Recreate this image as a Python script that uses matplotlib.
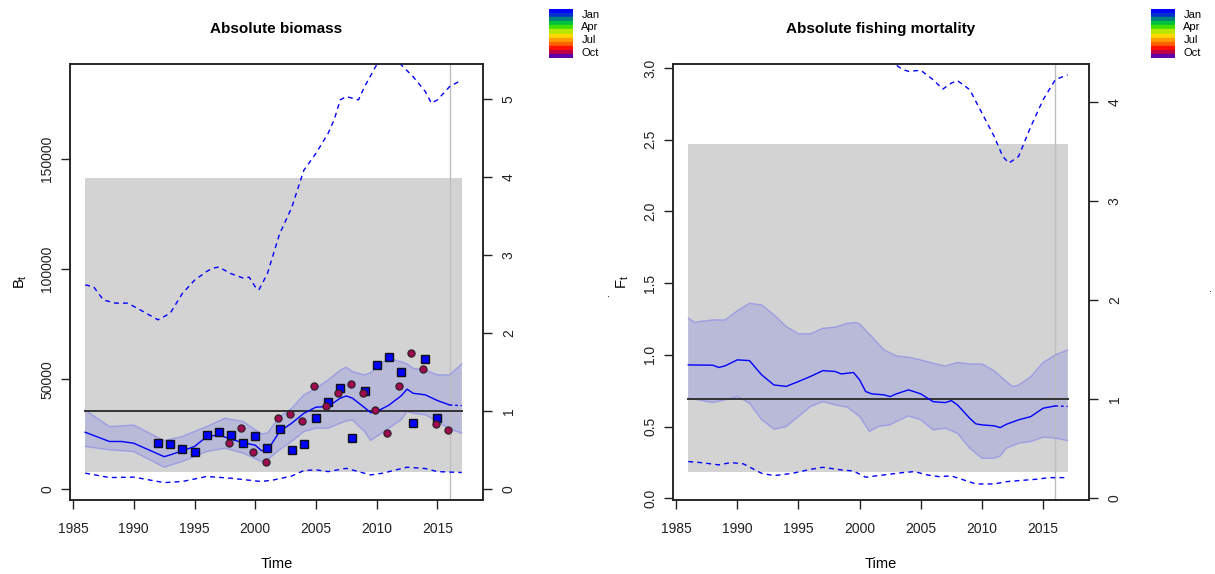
import numpy as np
import matplotlib
matplotlib.use("Agg")
import matplotlib.pyplot as plt

plt.rcParams['font.family'] = ['Liberation Sans', 'DejaVu Sans']
plt.rcParams['mathtext.fontset'] = 'custom'
plt.rcParams['mathtext.rm'] = 'Liberation Sans'

# ---------------- Data: biomass panel ----------------
B_years = [1986, 1988, 1989, 1990, 1992.5, 1993, 1995, 1996, 1997, 1998, 1999, 2000, 2000.5, 2001,
           2002, 2003, 2004, 2005, 2006, 2007, 2007.5, 2008, 2009, 2009.5, 2010, 2011, 2012, 2012.5,
           2013, 2014, 2015, 2016]
B_est = [25.9, 21.7, 21.7, 20.9, 14.8, 15.6, 19.4, 23.9, 24.7, 22.7, 21.2, 20.0, 17.6, 17.6,
         26.2, 30.0, 34.5, 37.3, 37.6, 41.4, 42.4, 41.4, 37.1, 34.8, 35.3, 38.2, 42.4, 45.5,
         43.6, 42.9, 40.3, 38.3]
B_fc_years = [2016, 2017]
B_fc = [38.3, 38.0]

B_ci_years = [1986, 1988, 1990, 1992.5, 1994, 1996, 1997.5, 1999, 2000.5, 2001, 2002, 2003, 2004,
              2005, 2006, 2007, 2007.5, 2008, 2009, 2009.5, 2010, 2011, 2012, 2012.5, 2013, 2014,
              2015, 2016, 2017]
B_upper = [36.0, 28.5, 29.2, 22.1, 24.0, 28.5, 32.3, 30.8, 25.2, 25.5, 33.0, 36.8, 42.9,
           45.9, 49.7, 54.2, 55.5, 53.5, 52.0, 53.0, 56.0, 59.5, 58.0, 57.0, 55.0, 54.2,
           52.0, 52.0, 57.0]
B_lower = [19.4, 17.9, 17.1, 10.0, 12.6, 17.1, 18.6, 16.4, 12.6, 13.3, 17.9, 21.7, 26.2,
           27.7, 27.7, 30.0, 31.0, 31.5, 26.2, 22.1, 24.0, 27.7, 31.5, 35.3, 34.5, 33.8,
           30.8, 27.3, 25.5]

B_lo_years = [1986, 1988, 1990, 1992.5, 1994, 1996, 1998, 2000.5, 2001.5, 2003, 2004, 2005, 2006,
              2007.5, 2009.5, 2010.5, 2012.5, 2014, 2015, 2017]
B_lo_dash = [7.3, 5.3, 5.5, 3.0, 3.5, 5.8, 5.0, 3.5, 4.2, 6.0, 8.5, 8.8, 8.0,
             9.5, 6.5, 7.3, 10.0, 9.4, 8.0, 7.6]
B_hi_years = [1986, 1986.7, 1987.5, 1988.5, 1989.5, 1990.5, 1992, 1993, 1994, 1995, 1996, 1996.5,
              1997, 1998, 1999, 1999.5, 2000, 2000.3, 2001, 2002, 2003, 2004, 2005, 2006, 2006.5,
              2007, 2007.5, 2008.5, 2009, 2010, 2011, 2012, 2013, 2014, 2014.5, 2015, 2016, 2017]
B_hi_dash = [92.9, 92.0, 86.0, 84.6, 84.6, 81.6, 77.0, 80.0, 89.0, 95.0, 99.0, 100.5,
             101.0, 98.0, 96.0, 96.4, 92.0, 90.6, 98.0, 116.0, 128.0, 145.0, 152.7, 161.8, 168.0,
             177.0, 178.5, 177.0, 183.0, 193.0, 198.0, 193.0, 187.5, 180.8, 175.5, 177.0, 183.0, 186.0]

obs_sq_years = [1992, 1993, 1994, 1995, 1996, 1997, 1998, 1999, 2000, 2001, 2002, 2003, 2004,
                2005, 2006, 2007, 2008, 2009, 2010, 2011, 2012, 2013, 2014, 2015]
obs_sq = [21.2, 20.6, 18.2, 17.0, 24.7, 26.2, 24.7, 21.2, 24.4, 18.6, 27.4, 17.9, 20.6,
          32.3, 39.5, 45.8, 23.5, 44.7, 56.5, 60.0, 53.2, 30.3, 59.4, 32.6]
obs_ci_years = [1997.85, 1998.85, 1999.85, 2000.85, 2001.85, 2002.85, 2003.85, 2004.85, 2005.85,
                2006.85, 2007.85, 2008.85, 2009.85, 2010.85, 2011.85, 2012.85, 2013.85, 2014.85, 2015.85]
obs_ci = [20.9, 27.7, 16.8, 12.3, 32.4, 34.1, 31.2, 47.1, 37.9, 43.6, 47.7, 43.6, 36.0,
          25.5, 47.1, 62.1, 54.5, 29.5, 26.7]

B_msy = 35.5          # thousands
B_box = (1986, 2017, 8.0, 141.4)

# ---------------- Data: fishing mortality panel ----------------
F_years = [1986, 1988, 1988.5, 1989, 1990, 1991, 1992, 1993, 1994, 1995, 1996, 1997, 1998, 1998.5,
           1999.5, 2000, 2000.5, 2001, 2002, 2002.5, 2003, 2004, 2005, 2006, 2007, 2007.5, 2008,
           2009, 2009.5, 2010, 2011, 2011.5, 2012, 2013, 2014, 2015, 2016]
F_est = [0.93, 0.928, 0.912, 0.923, 0.965, 0.96, 0.86, 0.79, 0.78, 0.814, 0.85, 0.89, 0.884, 0.867,
         0.877, 0.826, 0.744, 0.728, 0.721, 0.709, 0.728, 0.756, 0.728, 0.674, 0.667, 0.681, 0.651,
         0.558, 0.519, 0.512, 0.505, 0.493, 0.516, 0.547, 0.57, 0.628, 0.644]
F_fc_years = [2016, 2017]
F_fc = [0.644, 0.64]

F_up_years = [1986, 1986.5, 1988, 1989, 1990, 1991, 1992, 1993, 1994, 1995, 1996, 1997, 1998, 1999,
              1999.7, 2000, 2001, 2002, 2003, 2004, 2005, 2006, 2007, 2008, 2009, 2010, 2011, 2012,
              2012.5, 2013, 2014, 2015, 2016, 2017]
F_upper = [1.256, 1.228, 1.244, 1.244, 1.307, 1.36, 1.349, 1.279, 1.198, 1.147, 1.147, 1.186,
           1.193, 1.221, 1.226, 1.216, 1.128, 1.035, 0.993, 0.984, 0.965, 0.942, 0.923, 0.947,
           0.937, 0.937, 0.89, 0.814, 0.779, 0.79, 0.849, 0.947, 1.0, 1.035]
F_lo_years = [1986, 1988, 1989, 1990, 1991, 1992, 1993, 1994, 1995, 1996, 1997, 1998, 1999, 2000,
              2000.8, 2001.5, 2002.5, 2003, 2004, 2005, 2006, 2007, 2008, 2009, 2010, 2011, 2011.5,
              2012, 2013, 2014, 2015, 2016, 2017]
F_lower = [0.698, 0.667, 0.686, 0.709, 0.663, 0.547, 0.481, 0.5, 0.57, 0.64, 0.674, 0.651, 0.635,
           0.57, 0.465, 0.5, 0.512, 0.535, 0.574, 0.547, 0.477, 0.488, 0.453, 0.349, 0.279, 0.279,
           0.295, 0.349, 0.384, 0.395, 0.426, 0.419, 0.402]

F_lod_years = [1986, 1987, 1988.5, 1989.5, 1990.5, 1992, 1993, 1994.5, 1996, 1997, 1998.5, 1999.5,
               2000.5, 2002, 2003.5, 2004.5, 2005.5, 2006.5, 2007.5, 2008.5, 2009.5, 2011, 2012,
               2013, 2014.5, 2015.5, 2017]
F_lo_dash = [0.256, 0.249, 0.233, 0.249, 0.24, 0.174, 0.158, 0.174, 0.202, 0.216, 0.198, 0.19,
             0.147, 0.163, 0.179, 0.186, 0.163, 0.151, 0.156, 0.128, 0.1, 0.1, 0.116, 0.123,
             0.133, 0.144, 0.144]
F_hid_years = [1986, 1990, 1995, 2000, 2002, 2003, 2003.5, 2004, 2005, 2006, 2006.8, 2007.5, 2008,
               2009, 2010, 2011, 2011.7, 2012.2, 2013, 2014, 2015, 2016, 2017]
F_hi_dash = [3.6, 3.7, 3.5, 3.4, 3.15, 3.02, 2.99, 2.977, 2.984, 2.919, 2.853, 2.895, 2.912,
             2.849, 2.686, 2.523, 2.384, 2.337, 2.384, 2.593, 2.779, 2.919, 2.953]

F_msy = 0.69
F_box = (1986, 2017, 0.181, 2.467)
last_obs_year = 2016

months = ['Jan', 'Feb', 'Mar', 'Apr', 'May', 'Jun', 'Jul', 'Aug', 'Sep', 'Oct', 'Nov', 'Dec']
month_colors = ['#0000FF', '#0030D0', '#00807A', '#00C040', '#40E000', '#B8E800',
                '#FFD800', '#FFA000', '#FF6000', '#FF1000', '#C0003C', '#6000A8']
legend_months = ['Jan', 'Apr', 'Jul', 'Oct']

# ---------------- Figure ----------------
W, H = 1215, 574
fig = plt.figure(figsize=(W / 100, H / 100), dpi=100)


def fax(x0, y0, x1, y1):
    return [x0 / W, 1 - y1 / H, (x1 - x0) / W, (y1 - y0) / H]


BAND_FILL = (0, 0, 1, 0.12)
BAND_EDGE = (0.3, 0.3, 1, 0.32)
TICKFS = 10


def style_axis(ax):
    for s in ax.spines.values():
        s.set_linewidth(1.1)
        s.set_color('#222222')
    ax.tick_params(axis='both', length=6.5, width=1.0, labelsize=TICKFS, colors='#222222')
    ax.tick_params(axis='x', pad=9)
    ax.tick_params(axis='y', pad=5)


def rot_ylabels(ax):
    for lab in ax.get_yticklabels():
        lab.set_rotation(90)
        lab.set_va('center')


def panel(rect, box, x_est, y_est, x_fc, y_fc, xu, yu, xl, yl, xld, yld, xhd, yhd, ref,
          ylim, yticks, yticklabels, rticks, title, ylabel, obs=None):
    ax = fig.add_axes(rect)
    style_axis(ax)
    x0, x1, y0, y1 = box
    ax.fill([x0, x1, x1, x0], [y0, y0, y1, y1], color='#D3D3D3', lw=0, zorder=1)
    poly_x = np.concatenate([xu, xl[::-1]])
    poly_y = np.concatenate([yu, yl[::-1]])
    ax.fill(poly_x, poly_y, color=BAND_FILL, lw=0, zorder=2)
    ax.plot(xu, yu, color=BAND_EDGE, lw=1.0, zorder=3)
    ax.plot(xl, yl, color=BAND_EDGE, lw=1.0, zorder=3)
    ax.axvline(last_obs_year, color='#BEBEBE', lw=1.0, zorder=2)
    ax.plot([x0, x1], [ref, ref], color='#333333', lw=1.4, zorder=4)
    ax.plot(x_est, y_est, color='#0000FF', lw=1.0, zorder=5)
    ax.plot(x_fc, y_fc, color='#0000FF', lw=1.0, ls=(0, (2, 2)), zorder=5)
    ax.plot(xld, yld, color='#0000FF', lw=1.0, ls=(0, (3.5, 3)), zorder=5)
    ax.plot(xhd, yhd, color='#0000FF', lw=1.0, ls=(0, (3.5, 3)), zorder=5)
    if obs is not None:
        (sx, sy), (cx, cy) = obs
        ax.plot(sx, sy, ls='none', marker='s', ms=6.2, mfc='#0000FF', mec='#111111', mew=1.0, zorder=6)
        ax.plot(cx, cy, ls='none', marker='o', ms=5.2, mfc='#A00A4E', mec='#222222', mew=0.8, zorder=6)
    ax.set_xlim(1984.75, 2018.75)
    ax.set_ylim(*ylim)
    ax.set_xticks([1985, 1990, 1995, 2000, 2005, 2010, 2015])
    ax.set_yticks(yticks)
    ax.set_yticklabels(yticklabels)
    rot_ylabels(ax)
    ax.set_xlabel('Time', fontsize=10.5)
    ax.xaxis.set_label_coords(0.5, -0.131)
    ax.set_title(title, fontsize=11, fontweight='bold', pad=22)
    ax.set_ylabel(ylabel, fontsize=10.5)
    # right axis: relative scale
    ax2 = ax.twinx()
    style_axis(ax2)
    ax2.set_ylim(ylim[0] / ref, ylim[1] / ref)
    ax2.set_yticks(rticks)
    ax2.set_yticklabels([str(t) for t in rticks])
    rot_ylabels(ax2)
    ax2.tick_params(axis='y', pad=7)
    return ax, ax2


axB, axB2 = panel(fax(70, 64, 483, 500), B_box,
                  np.array(B_years), np.array(B_est), B_fc_years, B_fc,
                  np.array(B_ci_years), np.array(B_upper), np.array(B_ci_years), np.array(B_lower),
                  B_lo_years, B_lo_dash, B_hi_years, B_hi_dash, B_msy,
                  (-4.9, 193.3), [0, 50, 100, 150], ['0', '50000', '100000', '150000'],
                  [0, 1, 2, 3, 4, 5], 'Absolute biomass', r'$\mathrm{B_t}$',
                  obs=((obs_sq_years, obs_sq), (obs_ci_years, obs_ci)))
axB.yaxis.set_label_coords(-0.099, 0.5)

axF, axF2 = panel(fax(673, 64, 1089, 500), F_box,
                  np.array(F_years), np.array(F_est), F_fc_years, F_fc,
                  np.array(F_up_years), np.array(F_upper), np.array(F_lo_years), np.array(F_lower),
                  F_lod_years, F_lo_dash, F_hid_years, F_hi_dash, F_msy,
                  (-0.012, 3.028), [0, 0.5, 1.0, 1.5, 2.0, 2.5, 3.0],
                  ['0.0', '0.5', '1.0', '1.5', '2.0', '2.5', '3.0'],
                  [0, 1, 2, 3, 4], 'Absolute fishing mortality', r'$\mathrm{F_t}$')
axF.yaxis.set_label_coords(-0.101, 0.5)

# clipped remnants of right-axis labels
fig.text(608 / W, 1 - 294 / H, '.', fontsize=8, ha='center', va='center')
fig.text(1211 / W, 1 - 289 / H, '.', fontsize=8, ha='center', va='center')


# month colour legends
def month_legend(x0):
    lax = fig.add_axes(fax(x0, 9, x0 + 24, 58))
    n = len(months)
    for i, c in enumerate(month_colors):
        lax.bar(0, 1, bottom=n - 1 - i, width=1, color=c, edgecolor=c, lw=0.3)
    lax.set_xlim(-0.5, 0.5)
    lax.set_ylim(0, n)
    for s in lax.spines.values():
        s.set_visible(False)
    lax.set_xticks([])
    pos = [n - 1.15 - months.index(m) * 1.04 for m in legend_months]
    lax.yaxis.tick_right()
    lax.set_yticks(pos)
    lax.set_yticklabels(legend_months, fontsize=8)
    lax.tick_params(axis='y', length=0, pad=6)


month_legend(549)
month_legend(1151)

fig.savefig('out.png', dpi=100)
